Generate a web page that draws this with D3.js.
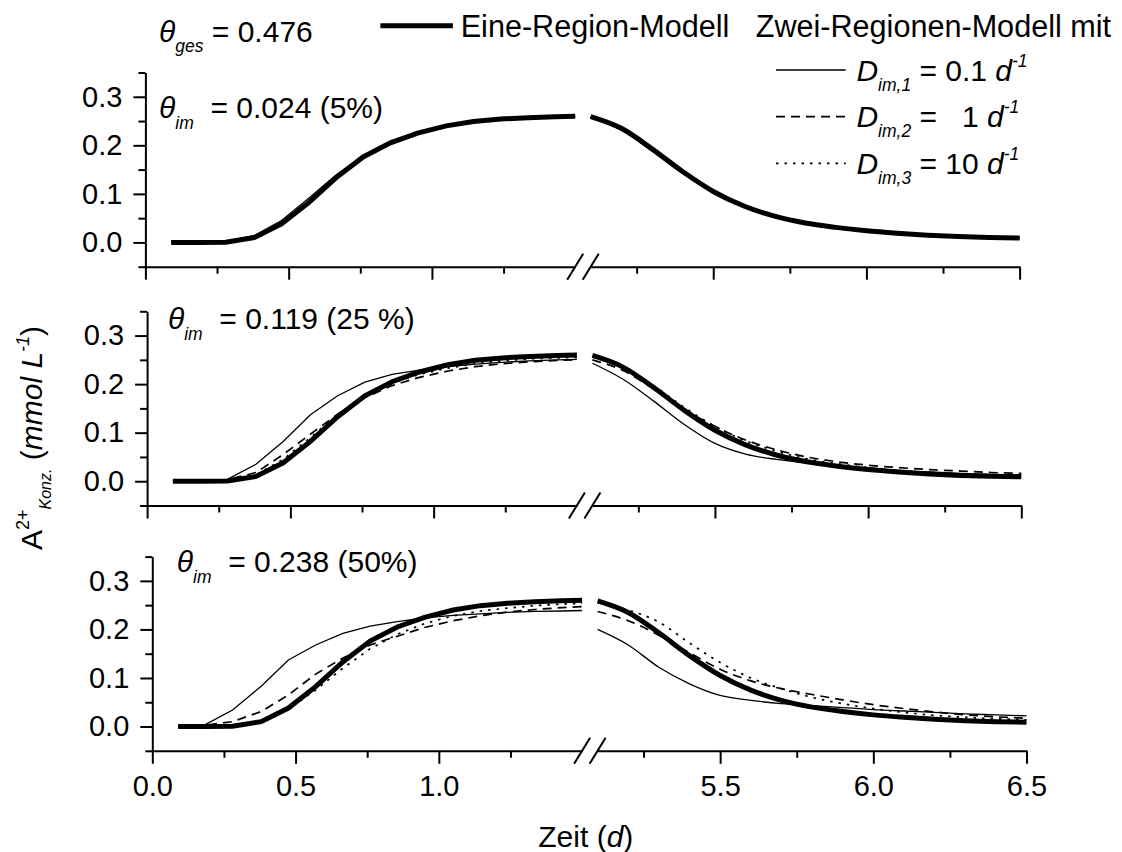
<!DOCTYPE html>
<html><head><meta charset="utf-8">
<script src="https://cdn.jsdelivr.net/npm/d3@7"></script>
<style>
html,body{margin:0;padding:0;background:#fff;}
svg text{font-family:"Liberation Sans",Arial,Helvetica,sans-serif;fill:#000;white-space:pre;}
</style></head><body>
<svg id="chart" width="1122" height="852"></svg>
<script>
// ---- data ----
const tLeft  = [0.09,0.185,0.28,0.38,0.475,0.57,0.665,0.76,0.855,0.95,1.05,1.145,1.24,1.335,1.43,1.5];
const tRight = [5.1,5.2,5.3,5.4,5.5,5.6,5.7,5.8,5.9,6.0,6.1,6.2,6.3,6.4,6.5];

// Eine-Region-Modell (same in every panel)
const eineLeft  = [0,0,0.0005,0.010,0.038,0.082,0.133,0.176,0.205,0.225,0.240,0.249,0.254,0.257,0.259,0.260];
const eineRight = [0.259,0.235,0.193,0.146,0.105,0.075,0.054,0.040,0.031,0.024,0.019,0.015,0.012,0.010,0.009];

// theta_im = 0.024 (5%)
const p5_D1Left  = [0,0,0.002,0.014,0.045,0.091,0.139,0.179,0.206,0.225,0.239,0.248,0.253,0.256,0.258,0.259];
const p5_D2Left  = [0,0,0.001,0.012,0.041,0.086,0.135,0.176,0.204,0.224,0.239,0.248,0.253,0.256,0.258,0.259];
const p5_D3Left  = [0,0,0.0005,0.011,0.039,0.083,0.133,0.176,0.205,0.225,0.240,0.249,0.254,0.257,0.259,0.260];
const p5_D1Right = [0.257,0.231,0.188,0.142,0.103,0.074,0.054,0.041,0.032,0.025,0.020,0.016,0.013,0.011,0.010];
const p5_D2Right = [0.258,0.233,0.191,0.145,0.105,0.076,0.056,0.042,0.032,0.025,0.020,0.016,0.013,0.011,0.010];
const p5_D3Right = [0.259,0.235,0.193,0.146,0.105,0.075,0.055,0.041,0.031,0.024,0.019,0.015,0.012,0.010,0.009];

// theta_im = 0.119 (25 %)
const p25_D1Left  = [0,0.001,0.004,0.035,0.082,0.137,0.176,0.204,0.220,0.229,0.236,0.241,0.245,0.248,0.250,0.251];
const p25_D2Left  = [0,0.001,0.003,0.018,0.055,0.097,0.138,0.172,0.197,0.214,0.227,0.236,0.242,0.246,0.249,0.250];
const p25_D3Left  = [0,0,0.002,0.013,0.045,0.090,0.137,0.176,0.202,0.220,0.233,0.242,0.248,0.252,0.254,0.255];
const p25_D1Right = [0.243,0.210,0.165,0.117,0.078,0.056,0.045,0.038,0.032,0.027,0.022,0.019,0.016,0.014,0.013];
const p25_D2Right = [0.250,0.228,0.190,0.148,0.113,0.085,0.065,0.050,0.040,0.033,0.028,0.024,0.021,0.018,0.016];
const p25_D3Right = [0.256,0.235,0.197,0.152,0.113,0.083,0.062,0.046,0.036,0.028,0.022,0.018,0.015,0.013,0.012];

// theta_im = 0.238 (50%)
const p50_D1Left  = [0,0.004,0.034,0.083,0.137,0.168,0.192,0.207,0.216,0.224,0.229,0.232,0.235,0.237,0.238,0.239];
const p50_D2Left  = [0,0.003,0.010,0.031,0.065,0.108,0.141,0.168,0.186,0.204,0.218,0.228,0.236,0.241,0.245,0.247];
const p50_D3Left  = [0,0,0.002,0.011,0.036,0.075,0.120,0.160,0.190,0.212,0.228,0.238,0.244,0.249,0.252,0.254];
const p50_D1Right = [0.200,0.168,0.122,0.088,0.064,0.054,0.047,0.043,0.039,0.035,0.032,0.029,0.026,0.024,0.022];
const p50_D2Right = [0.237,0.218,0.188,0.152,0.118,0.094,0.078,0.066,0.055,0.045,0.037,0.030,0.024,0.020,0.017];
const p50_D3Right = [0.255,0.240,0.215,0.172,0.132,0.100,0.078,0.060,0.047,0.037,0.029,0.023,0.019,0.016,0.014];

// ticks
const yMajor = [0.0,0.1,0.2,0.3];
const yMinor = [-0.05,0.05,0.15,0.25,0.35];
const xMajorLeft = [0.0,0.5,1.0];
const xMinorLeft = [0.25,0.75,1.25];
const xMajorRight = [5.5,6.0,6.5];
const xMinorRight = [5.25,5.75,6.25];
const panelLabels = ["  = 0.024 (5%)","  = 0.119 (25 %)","  = 0.238 (50%)"];

// ---- layout ----
const svg = d3.select("#chart");
const FS = 30, LFS = 30.6, SUB = 17.5;

const panels = [
  {dx:0,   top:72.5,  bottom:266.7, tx:159,   ty:118.3, label:panelLabels[0], showX:false,
   L:[p5_D1Left,p5_D2Left,p5_D3Left], R:[p5_D1Right,p5_D2Right,p5_D3Right]},
  {dx:1.7, top:311.3, bottom:505.5, tx:167.9, ty:329.3, label:panelLabels[1], showX:false,
   L:[p25_D1Left,p25_D2Left,p25_D3Left], R:[p25_D1Right,p25_D2Right,p25_D3Right]},
  {dx:6.9, top:556.6, bottom:750.8, tx:176.8, ty:571.7, label:panelLabels[2], showX:true,
   L:[p50_D1Left,p50_D2Left,p50_D3Left], R:[p50_D1Right,p50_D2Right,p50_D3Right]}
];

const styles = [
  {w:1.3, dash:null},
  {w:1.7, dash:"9,6"},
  {w:1.7, dash:"2.5,6"}
];

function rich(sel, parts){
  let prev = 0;
  parts.forEach(p=>{
    const shift = p.shift||0;
    const ts = sel.append("tspan").text(p.t)
      .attr("font-size", p.size||FS)
      .attr("font-style", p.it ? "italic" : "normal");
    if (shift - prev !== 0) ts.attr("dy", shift - prev);
    prev = shift;
  });
  return sel;
}

function styleAxis(g){
  g.selectAll("path.domain").attr("stroke","#000").attr("stroke-width",2);
  g.selectAll(".tick line").attr("stroke","#000").attr("stroke-width",2);
  g.selectAll(".tick text").attr("font-size",29).attr("fill","#000")
    .style("font-family","'Liberation Sans',Arial,sans-serif");
}

panels.forEach(p=>{
  const xL = d3.scaleLinear().domain([0,1.5]).range([145.4+p.dx, 575.2+p.dx]);
  const xR = d3.scaleLinear().domain([5.1,6.5]).range([590.7+p.dx, 1019.6+p.dx]);
  const y  = d3.scaleLinear().domain([-0.05,0.35]).range([p.bottom, p.top]);
  const g = svg.append("g");

  // y axis
  const ya = g.append("g").attr("transform",`translate(${xL(0)},0)`)
    .call(d3.axisLeft(y).tickValues(yMajor).tickSize(12).tickSizeOuter(0).tickPadding(11).tickFormat(d3.format(".1f")));
  styleAxis(ya);
  const ym = g.append("g").attr("transform",`translate(${xL(0)},0)`)
    .call(d3.axisLeft(y).tickValues(yMinor).tickSize(7).tickSizeOuter(0).tickFormat(""));
  ym.select("path.domain").remove(); styleAxis(ym);

  // x axes (two segments)
  const fmt = p.showX ? d3.format(".1f") : ()=>"";
  [[xL,xMajorLeft,xMinorLeft],[xR,xMajorRight,xMinorRight]].forEach(([xs,maj,min])=>{
    const a = g.append("g").attr("transform",`translate(0,${p.bottom})`)
      .call(d3.axisBottom(xs).tickValues(maj).tickSize(13).tickSizeOuter(0).tickPadding(12).tickFormat(fmt));
    styleAxis(a);
    const m = g.append("g").attr("transform",`translate(0,${p.bottom})`)
      .call(d3.axisBottom(xs).tickValues(min).tickSize(7).tickSizeOuter(0).tickFormat(""));
    m.select("path.domain").remove(); styleAxis(m);
  });

  // break marks
  [xL(1.5), xR(5.1)].forEach(bx=>{
    g.append("line").attr("x1",bx-8).attr("y1",p.bottom+13).attr("x2",bx+8).attr("y2",p.bottom-13)
      .attr("stroke","#000").attr("stroke-width",2);
  });

  const lineL = d3.line().x((d,i)=>xL(tLeft[i])).y(d=>y(d)).curve(d3.curveLinear);
  const lineR = d3.line().x((d,i)=>xR(tRight[i])).y(d=>y(d)).curve(d3.curveMonotoneX);

  // thick single-region model
  g.append("path").attr("d",lineL(eineLeft)).attr("fill","none").attr("stroke","#000").attr("stroke-width",5);
  g.append("path").attr("d",lineR(eineRight)).attr("fill","none").attr("stroke","#000").attr("stroke-width",5);

  [0,1,2].forEach(k=>{
    [[lineL,p.L[k]],[lineR,p.R[k]]].forEach(([ln,data])=>{
      const path = g.append("path").attr("d",ln(data)).attr("fill","none")
        .attr("stroke","#000").attr("stroke-width",styles[k].w);
      if (styles[k].dash) path.attr("stroke-dasharray",styles[k].dash);
    });
  });

  // theta_im label
  rich(g.append("text").attr("x",p.tx).attr("y",p.ty), [
    {t:"θ", it:true},
    {t:"im", it:true, size:SUB, shift:11},
    {t:p.label, shift:0}
  ]);
});

// theta_ges
rich(svg.append("text").attr("x",159).attr("y",41.7), [
  {t:"θ", it:true},
  {t:"ges", it:true, size:SUB, shift:10},
  {t:" = 0.476", shift:0}
]);

// legend: single region
svg.append("line").attr("x1",380.4).attr("x2",452.9).attr("y1",25.7).attr("y2",25.7)
  .attr("stroke","#000").attr("stroke-width",5);
svg.append("text").attr("x",460.7).attr("y",37).attr("font-size",LFS).text("Eine-Region-Modell");
svg.append("text").attr("x",755.7).attr("y",37).attr("font-size",LFS).text("Zwei-Regionen-Modell mit");

// legend: two region
const legendItems = [
  {sub:"im,1", val:" = 0.1 "},
  {sub:"im,2", val:" =   1 "},
  {sub:"im,3", val:" = 10 "}
];
const legendY = [70, 116.7, 163.3];
legendItems.forEach((it,k)=>{
  const ly = legendY[k];
  const ln = svg.append("line").attr("x1",776).attr("x2",845.7).attr("y1",ly).attr("y2",ly)
    .attr("stroke","#000").attr("stroke-width",styles[k].w);
  if (styles[k].dash) ln.attr("stroke-dasharray",styles[k].dash);
  rich(svg.append("text").attr("x",856.4).attr("y",ly+10.5), [
    {t:"D", it:true},
    {t:it.sub, it:true, size:SUB, shift:10},
    {t:it.val, shift:0},
    {t:"d", it:true},
    {t:"-1", it:true, size:SUB, shift:-14},
  ]);
});

// axis titles
rich(svg.append("text").attr("text-anchor","middle")
  .attr("transform","translate(42,438) rotate(-90)"), [
  {t:"A"},
  {t:"2+", size:18, shift:-13},
  {t:"Konz.", it:true, size:16, shift:9},
  {t:" (", shift:0},
  {t:"mmol L", it:true},
  {t:"-1", it:true, size:18, shift:-13},
  {t:")", shift:0}
]);

rich(svg.append("text").attr("x",538.3).attr("y",846.7), [
  {t:"Zeit ("},
  {t:"d", it:true},
  {t:")"}
]);
</script>
</body></html>
